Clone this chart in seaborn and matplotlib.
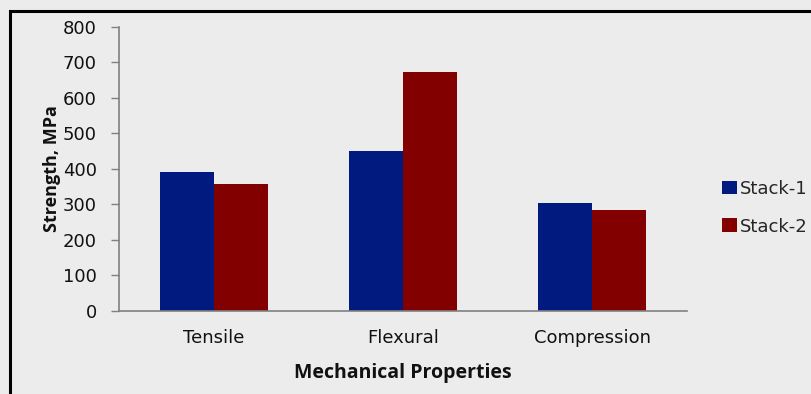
import matplotlib
matplotlib.use("Agg")
import matplotlib.pyplot as plt
from matplotlib.patches import Rectangle
import seaborn as sns
import pandas as pd

properties = ["Tensile", "Flexural", "Compression"]
stacks = ["Stack-1", "Stack-2"]
stack1_strength = [390, 450, 304]
stack2_strength = [358, 672, 283]
y_ticks = [0, 100, 200, 300, 400, 500, 600, 700, 800]

df = pd.DataFrame({
    "Property": properties * 2,
    "Stack": [stacks[0]] * 3 + [stacks[1]] * 3,
    "Strength": stack1_strength + stack2_strength,
})

sns.set_theme(style="white")
plt.rcParams["font.family"] = ["DejaVu Sans"]

bg = "#ECECEC"
fig = plt.figure(figsize=(8.11, 3.94), dpi=100, facecolor=bg)
ax = fig.add_axes([0.1467, 0.2114, 0.7004, 0.7208], facecolor=bg)

sns.barplot(data=df, x="Property", y="Strength", hue="Stack",
            palette={"Stack-1": "#001A80", "Stack-2": "#830000"},
            width=0.57, gap=0, saturation=1, linewidth=0, ax=ax)

ax.set_ylim(0, 800)
ax.set_xlim(-0.5, 2.5)
ax.set_yticks(y_ticks)
ax.set_yticklabels([str(v) for v in y_ticks], fontsize=13, color="#111111")
ax.tick_params(axis="x", labelsize=13, length=0, pad=13.5, colors="#111111")
ax.tick_params(axis="y", length=6, width=1, color="#808080", left=True, pad=10)

for side in ["top", "right"]:
    ax.spines[side].set_visible(False)
for side in ["left", "bottom"]:
    ax.spines[side].set_color("#808080")
    ax.spines[side].set_linewidth(1.2)

bold_font = {"family": "Open Sans", "weight": "bold"}
ax.set_xlabel("Mechanical Properties", fontsize=14, fontdict=bold_font,
              labelpad=11, color="#111111")
ax.set_ylabel("Strength, MPa", fontsize=13, fontdict=bold_font,
              labelpad=1, color="#111111")

ax.legend_.remove()
handles, labels = ax.get_legend_handles_labels()
fig.legend(handles, labels, loc="center left", bbox_to_anchor=(0.8816, 0.473),
           frameon=False, fontsize=13, handlelength=0.8, handleheight=0.8,
           handletextpad=0.2, labelspacing=1.1, borderaxespad=0)

# Outer frame around the chart area
fig.patches.append(Rectangle((10 / 811, -0.1), 1.2, 1 - 11.5 / 394 + 0.1,
                             transform=fig.transFigure, fill=False,
                             edgecolor="black", linewidth=2.2))

fig.savefig("out.png", dpi=100, facecolor=bg)
